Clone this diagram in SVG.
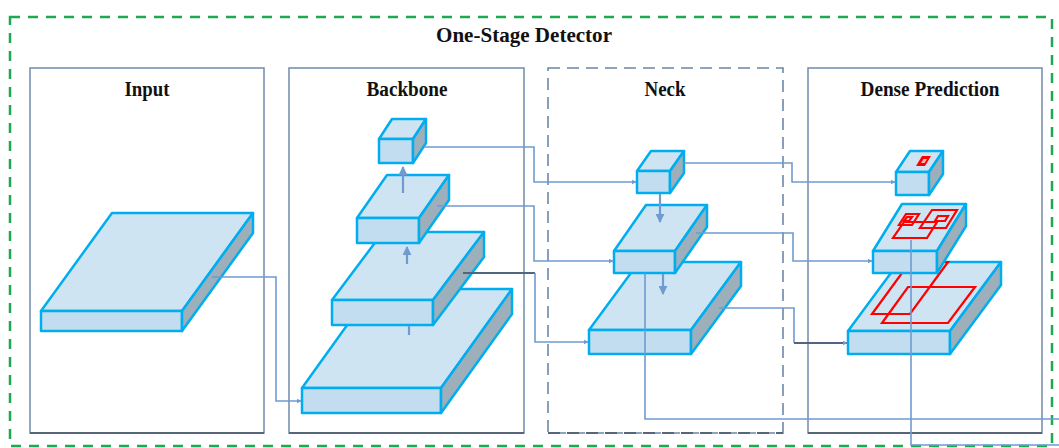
<svg xmlns="http://www.w3.org/2000/svg" width="1059" height="448" viewBox="0 0 1059 448">
<defs>
<style>
.box{fill:none;stroke:#7a92b2;stroke-width:1.6}
.boxb{fill:none;stroke:#56657a;stroke-width:2}
.dash{fill:none;stroke:#6d87a8;stroke-width:1.6;stroke-dasharray:12 7}
.dashb{fill:none;stroke:#56657a;stroke-width:2;stroke-dasharray:12 7}
.outer{fill:none;stroke:#1fa84f;stroke-width:2.5;stroke-dasharray:10 8}
.t{font-family:"Liberation Serif","Times New Roman",serif;font-weight:bold;fill:#111;text-anchor:middle}
.top{fill:#cfe4f3;stroke:#00aeef;stroke-width:2.5;stroke-linejoin:round}
.front{fill:#c3ddf0;stroke:#00aeef;stroke-width:2.5;stroke-linejoin:round}
.side{fill:#9cafbb;stroke:#00aeef;stroke-width:2.5;stroke-linejoin:round}
.red{fill:none;stroke:#ff0000;stroke-width:2.2;stroke-linejoin:miter}
.c{fill:none;stroke:#6f9bd1;stroke-width:1.6}
.cd{fill:none;stroke:#52657f;stroke-width:1.8}
.ca{fill:none;stroke:#6f9bd1;stroke-width:2.2}
</style>
<marker id="ah" viewBox="0 0 10 10" refX="9" refY="5" markerWidth="5" markerHeight="5" orient="auto" markerUnits="userSpaceOnUse">
<path d="M0,0 L10,5 L0,10 z" fill="#6f9bd1"/>
</marker>
<marker id="ahb" viewBox="0 0 10 10" refX="9" refY="5" markerWidth="9" markerHeight="9" orient="auto" markerUnits="userSpaceOnUse">
<path d="M0,0 L10,5 L0,10 z" fill="#6f9bd1"/>
</marker>
</defs>

<g id="one-stage-detector">
<rect class="outer" x="10" y="17" width="1042" height="429"/>
<text class="t" x="524" y="42" font-size="22" textLength="176" lengthAdjust="spacingAndGlyphs">One-Stage Detector</text>
</g>

<g id="input">
<rect class="box" x="30" y="68" width="234" height="365"/>
<line class="boxb" x1="30" y1="433" x2="264" y2="433"/>
<text class="t" x="147" y="96" font-size="20" textLength="45" lengthAdjust="spacingAndGlyphs">Input</text>
<g id="input-slab">
<polygon class="top" points="41,311 182,311 253,213 112,213"/>
<rect class="front" x="41" y="311" width="141" height="20"/>
<polygon class="side" points="182,311 253,213 253,233 182,331"/>
</g>
</g>

<g id="backbone">
<rect class="box" x="289" y="68" width="235" height="365"/>
<line class="boxb" x1="289" y1="433" x2="524" y2="433"/>
<text class="t" x="407" y="96" font-size="20" textLength="81" lengthAdjust="spacingAndGlyphs">Backbone</text>
<g id="backbone-l1">
<polygon class="top" points="302,388 441,388 512,289 373,289"/>
<rect class="front" x="302" y="388" width="139" height="25"/>
<polygon class="side" points="441,388 512,289 512,314 441,413"/>
</g>
<g id="backbone-l2">
<polygon class="top" points="332,300 433,300 484,232 383,232"/>
<rect class="front" x="332" y="300" width="101" height="25"/>
<polygon class="side" points="433,300 484,232 484,257 433,325"/>
</g>
<g id="backbone-l3">
<polygon class="top" points="357,218 419,218 449,175 387,175"/>
<rect class="front" x="357" y="218" width="62" height="25"/>
<polygon class="side" points="419,218 449,175 449,200 419,243"/>
</g>
<g id="backbone-l4">
<polygon class="top" points="379,139 413,139 426,119 392,119"/>
<rect class="front" x="379" y="139" width="34" height="24"/>
<polygon class="side" points="413,139 426,119 426,143 413,163"/>
</g>
</g>

<g id="neck">
<rect class="dash" x="548" y="68" width="235" height="365"/>
<line class="dashb" x1="548" y1="433" x2="783" y2="433"/>
<text class="t" x="665" y="96" font-size="20" textLength="41" lengthAdjust="spacingAndGlyphs">Neck</text>
<g id="neck-l1">
<polygon class="top" points="589,330 691,330 741,262 639,262"/>
<rect class="front" x="589" y="330" width="102" height="24"/>
<polygon class="side" points="691,330 741,262 741,286 691,354"/>
</g>
<g id="neck-l2">
<polygon class="top" points="614,251 675,251 707,205 646,205"/>
<rect class="front" x="614" y="251" width="61" height="22"/>
<polygon class="side" points="675,251 707,205 707,227 675,273"/>
</g>
<g id="neck-l3">
<polygon class="top" points="637,171 670,171 684,151 651,151"/>
<rect class="front" x="637" y="171" width="33" height="22"/>
<polygon class="side" points="670,171 684,151 684,173 670,193"/>
</g>
</g>

<g id="dense-prediction">
<rect class="box" x="808" y="68" width="234" height="365"/>
<line class="boxb" x1="808" y1="433" x2="1042" y2="433"/>
<text class="t" x="930" y="96" font-size="20" textLength="139" lengthAdjust="spacingAndGlyphs">Dense Prediction</text>
<g id="dense-l1">
<polygon class="top" points="848,331 950,331 1001,262 899,262"/>
<rect class="front" x="848" y="331" width="102" height="23"/>
<polygon class="side" points="950,331 1001,262 1001,285 950,354"/>
<polygon class="red" points="910,262 948,262 910,314 872,314"/>
<polygon class="red" points="908,287 975,287 948,323 882,323"/>
</g>
<g id="dense-l2">
<polygon class="top" points="873,251 937,251 966,204 902,204"/>
<rect class="front" x="873" y="251" width="64" height="22"/>
<polygon class="side" points="937,251 966,204 966,226 937,273"/>
<polygon class="red" points="904,222 937,222 927,238 893,238"/>
<polygon class="red" points="906,214 919,214 912,225 899,225"/>
<polygon class="red" points="932,210 957,210 946,228 920,228"/>
<polygon class="red" points="907,217 912,217 909,221 904,221" stroke-width="1.2"/>
<polygon class="red" points="938,216 948,216 945,221 935,221" stroke-width="1.2"/>
</g>
<g id="dense-l3">
<polygon class="top" points="896,172 929,172 943,151 910,151"/>
<rect class="front" x="896" y="172" width="33" height="23"/>
<polygon class="side" points="929,172 943,151 943,174 929,195"/>
<polygon points="922,156 931,156 925,166 916,166" fill="#ff0000"/>
<polygon points="923.5,159 927,159 924.5,163 921,163" fill="#f3c0c0"/>
</g>
</g>

<g id="connectors">
<path class="c" d="M212,277 H276 V401 H301" marker-end="url(#ah)"/>
<path class="ca" d="M403,193 V167" marker-end="url(#ahb)"/>
<path class="ca" d="M407,264 V247" marker-end="url(#ahb)"/>
<line class="ca" x1="409" y1="326" x2="409" y2="335"/>
<path class="c" d="M424,147 H534 V182 H636" marker-end="url(#ah)"/>
<path class="c" d="M437,206 H534 V261 H613" marker-end="url(#ah)"/>
<path class="cd" d="M463,273 H535"/>
<path class="c" d="M535,273 V342 H588" marker-end="url(#ah)"/>
<path class="ca" d="M660,194 V222" marker-end="url(#ahb)"/>
<path class="ca" d="M663,274 V294" marker-end="url(#ahb)"/>
<path class="c" d="M684,163 H792 V182 H895" marker-end="url(#ah)"/>
<path class="c" d="M696,233 H793 V261 H872" marker-end="url(#ah)"/>
<path class="c" d="M719,308 H794 V343"/>
<path class="cd" d="M794,343 H847" marker-end="url(#ah)"/>
<path class="c" d="M645,273 V419 H1059"/>
<path class="c" d="M911,240 V445 H1059"/>
</g>
</svg>
